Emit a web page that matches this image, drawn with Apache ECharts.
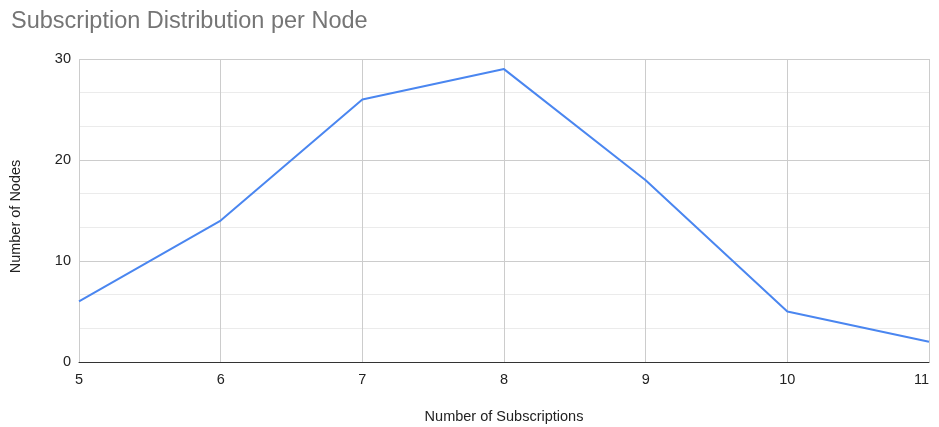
<!DOCTYPE html>
<html><head><meta charset="utf-8">
<script src="https://cdn.jsdelivr.net/npm/echarts@6/dist/echarts.min.js"></script>
<style>html,body{margin:0;padding:0;background:#fff}#c{width:939px;height:427px}</style>
</head><body><div id="c"></div>
<script>
const subscriptions = [5, 6, 7, 8, 9, 10, 11];
const nodes = [6, 14, 26, 29, 18, 5, 2];
const chart = echarts.init(document.getElementById('c'));
const font = 'Liberation Sans, Arial, sans-serif';
chart.setOption({
  animation: false,
  title: {text: 'Subscription Distribution per Node', left: 6, top: 5,
    textStyle: {fontFamily: font, fontSize: 23.5, fontWeight: 'normal', color: '#757575'}},
  grid: {left: 79, right: 10, top: 59, bottom: 65, containLabel: false, outerBoundsMode: 'none'},
  xAxis: {type: 'value', min: 5, max: 11, interval: 1,
    name: 'Number of Subscriptions', nameLocation: 'middle', nameGap: 47,
    nameTextStyle: {fontFamily: font, fontSize: 14.5, color: '#222'},
    axisLine: {lineStyle: {color: '#333', width: 1}}, axisTick: {show: false},
    axisLabel: {fontFamily: font, fontSize: 14.5, color: '#222', margin: 10, alignMaxLabel: 'right'},
    splitLine: {show: true, lineStyle: {color: '#ccc'}}},
  yAxis: {type: 'value', min: 0, max: 30, interval: 10,
    name: 'Number of Nodes', nameLocation: 'middle', nameGap: 56,
    nameTextStyle: {fontFamily: font, fontSize: 14.5, color: '#222', padding: [0, 12, 0, 0]},
    axisLine: {show: false}, axisTick: {show: false},
    axisLabel: {fontFamily: font, fontSize: 14.5, color: '#222', margin: 8},
    splitLine: {lineStyle: {color: '#ccc'}},
    minorTick: {show: false, splitNumber: 3},
    minorSplitLine: {show: true, lineStyle: {color: '#ebebeb'}}},
  series: [{type: 'line', data: subscriptions.map((s, i) => [s, nodes[i]]),
    showSymbol: false, lineStyle: {color: '#4a86f0', width: 2}, itemStyle: {color: '#4a86f0'}}]
});
</script></body></html>
